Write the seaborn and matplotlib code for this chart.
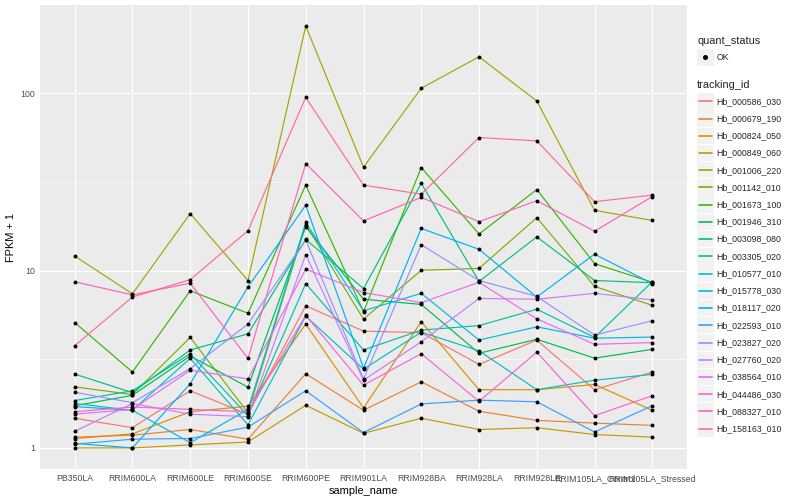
import numpy as np
import pandas as pd
import matplotlib
matplotlib.use("Agg")
import matplotlib.pyplot as plt
import seaborn as sns
from matplotlib.patches import Rectangle
from matplotlib.lines import Line2D
from matplotlib.ticker import FixedLocator, NullFormatter

samples = ["PB350LA", "RRIM600LA", "RRIM600LE", "RRIM600SE", "RRIM600PE", "RRIM901LA",
           "RRIM928BA", "RRIM928LA", "RRIM928LE", "RRIM105LA_Control", "RRIM105LA_Stressed"]

tracking_ids = ["Hb_000586_030", "Hb_000679_190", "Hb_000824_050", "Hb_000849_060",
                "Hb_001006_220", "Hb_001142_010", "Hb_001673_100", "Hb_001946_310",
                "Hb_003098_080", "Hb_003305_020", "Hb_010577_010", "Hb_015778_030",
                "Hb_018117_020", "Hb_022593_010", "Hb_023827_020", "Hb_027760_020",
                "Hb_038564_010", "Hb_044486_030", "Hb_088327_010", "Hb_158163_010"]

# FPKM + 1 values, one list per tracking_id (order of samples)
hb_000586_030 = [1.47, 1.30, 2.10, 1.55, 6.33, 4.56, 4.47, 2.96, 4.06, 2.13, 2.68]
hb_000679_190 = [1.15, 1.18, 1.27, 1.12, 2.62, 1.63, 2.36, 1.61, 1.43, 1.38, 1.34]
hb_000824_050 = [1.13, 1.20, 1.60, 1.72, 5.00, 1.68, 5.15, 2.13, 2.13, 2.28, 1.63]
hb_000849_060 = [1.00, 1.00, 1.04, 1.08, 1.74, 1.21, 1.47, 1.27, 1.30, 1.19, 1.15]
hb_001006_220 = [12.1, 7.40, 21.0, 8.80, 240.0, 38.4, 107.0, 161.0, 90.6, 21.9, 19.2]
hb_001142_010 = [2.21, 2.00, 4.20, 1.58, 18.2, 5.33, 10.05, 10.3, 19.9, 8.15, 6.37]
hb_001673_100 = [5.10, 2.68, 7.70, 5.75, 30.4, 5.87, 38.2, 16.1, 28.7, 10.95, 8.60]
hb_001946_310 = [1.73, 1.98, 3.30, 2.20, 17.7, 6.90, 6.45, 3.42, 4.10, 3.21, 3.60]
hb_003098_080 = [2.61, 2.05, 3.57, 4.40, 15.0, 7.93, 31.1, 8.70, 15.5, 8.80, 8.55]
hb_003305_020 = [1.85, 2.10, 3.40, 1.52, 8.45, 3.57, 4.62, 4.90, 6.06, 4.20, 8.66]
hb_010577_010 = [1.78, 1.63, 3.20, 1.35, 5.54, 2.78, 4.50, 3.53, 2.13, 2.41, 2.60]
hb_015778_030 = [1.71, 1.63, 1.07, 1.65, 18.7, 5.94, 7.45, 4.06, 4.82, 4.16, 4.22]
hb_018117_020 = [1.06, 1.00, 2.30, 8.10, 23.4, 2.82, 17.3, 13.2, 7.10, 12.4, 8.45]
hb_022593_010 = [1.05, 1.12, 1.13, 1.31, 2.10, 1.22, 1.77, 1.86, 1.82, 1.23, 1.73]
hb_023827_020 = [2.06, 1.80, 2.80, 5.00, 14.9, 2.45, 14.0, 8.80, 7.16, 4.33, 5.22]
hb_027760_020 = [1.24, 1.78, 1.55, 1.50, 12.3, 2.41, 3.97, 6.97, 6.90, 7.45, 6.84]
hb_038564_010 = [1.55, 1.65, 2.74, 2.45, 10.2, 7.53, 6.60, 8.60, 5.35, 3.84, 3.93]
hb_044486_030 = [1.60, 1.70, 1.65, 1.60, 5.60, 2.26, 3.40, 1.83, 3.47, 1.52, 1.97]
hb_088327_010 = [8.66, 7.30, 8.50, 3.20, 40.2, 19.1, 25.9, 18.9, 24.8, 16.7, 26.2]
hb_158163_010 = [3.77, 7.10, 8.90, 16.8, 95.0, 30.4, 27.0, 56.4, 54.0, 24.5, 26.7]

series = [hb_000586_030, hb_000679_190, hb_000824_050, hb_000849_060, hb_001006_220,
          hb_001142_010, hb_001673_100, hb_001946_310, hb_003098_080, hb_003305_020,
          hb_010577_010, hb_015778_030, hb_018117_020, hb_022593_010, hb_023827_020,
          hb_027760_020, hb_038564_010, hb_044486_030, hb_088327_010, hb_158163_010]

palette = ["#F8766D", "#EA8331", "#D89000", "#C09B00", "#A3A500", "#7CAE00", "#39B600",
           "#00BB4E", "#00BF7D", "#00C1A3", "#00BFC4", "#00BAE0", "#00B0F6", "#35A2FF",
           "#9590FF", "#C77CFF", "#E76BF3", "#FA62DB", "#FF62BC", "#FF6C91"]

rows = []
for tid, vals in zip(tracking_ids, series):
    for s, v in zip(samples, vals):
        rows.append({"tracking_id": tid, "sample_name": s, "fpkm1": v, "quant_status": "OK"})
df = pd.DataFrame(rows)

sns.set_theme(style="darkgrid", rc={"axes.facecolor": "#EBEBEB", "grid.color": "white"})
plt.rcParams["font.family"] = ["Liberation Sans", "DejaVu Sans"]

W, H = 800, 500
fig = plt.figure(figsize=(8, 5), dpi=100)
fig.patch.set_facecolor("white")
left, right, top, bottom = 40, 687, 5, 469
ax = fig.add_axes([left / W, 1 - bottom / H, (right - left) / W, (bottom - top) / H])

sns.lineplot(data=df, x="sample_name", y="fpkm1", hue="tracking_id", hue_order=tracking_ids,
             palette=palette, estimator=None, sort=False, linewidth=0.85, legend=False, ax=ax)
sns.scatterplot(data=df, x="sample_name", y="fpkm1", color="black", s=8, linewidth=0,
                legend=False, ax=ax, zorder=3)

ax.set_yscale("log")
ax.set_xlim(-0.6, len(samples) - 0.4)
ax.set_ylim(10 ** -0.119, 10 ** 2.499)
ax.yaxis.set_major_locator(FixedLocator([1, 10, 100]))
ax.set_yticklabels(["1", "10", "100"])
ax.yaxis.set_minor_locator(FixedLocator([10 ** 0.5, 10 ** 1.5, 10 ** 2.5]))
ax.yaxis.set_minor_formatter(NullFormatter())
ax.grid(which="major", color="white", linewidth=0.8)
ax.grid(which="minor", axis="y", color="white", linewidth=0.4)
ax.tick_params(axis="both", which="major", length=2, width=0.5, color="#333333",
               labelsize=6.3, labelcolor="#4D4D4D", pad=1.5)
ax.tick_params(axis="both", which="minor", length=0)
for sp in ax.spines.values():
    sp.set_visible(False)
ax.set_xlabel("sample_name", fontsize=7.9, color="black", labelpad=2)
ax.set_ylabel("FPKM + 1", fontsize=7.9, color="black", labelpad=3)

# legends (ggplot-style), in figure pixel coordinates
def fx(x):
    return x / W

def fy(y):
    return 1 - y / H

fig.text(fx(697), fy(41), "quant_status", fontsize=7.9, va="center", ha="left")
fig.patches.append(Rectangle((fx(697), fy(65.5)), 16.5 / W, 16.5 / H, transform=fig.transFigure,
                             facecolor="#F2F2F2", edgecolor="none"))
fig.lines.append(Line2D([fx(705.2)], [fy(57.3)], marker="o", markersize=2.6, color="black",
                        linestyle="none", transform=fig.transFigure))
fig.text(fx(716.5), fy(57.3), "OK", fontsize=6.3, va="center", ha="left")

fig.text(fx(697), fy(85), "tracking_id", fontsize=7.9, va="center", ha="left")
y0, dy = 101.3, 17.23
for i, (tid, col) in enumerate(zip(tracking_ids, palette)):
    yc = y0 + i * dy
    fig.patches.append(Rectangle((fx(697), fy(yc + 8.2)), 16.5 / W, 16.4 / H,
                                 transform=fig.transFigure, facecolor="#F2F2F2", edgecolor="none"))
    fig.lines.append(Line2D([fx(698.5), fx(712)], [fy(yc), fy(yc)], color=col, linewidth=1.2,
                            transform=fig.transFigure))
    fig.text(fx(716.5), fy(yc), tid, fontsize=6.3, va="center", ha="left")

fig.savefig("out.png", dpi=100, facecolor="white")
